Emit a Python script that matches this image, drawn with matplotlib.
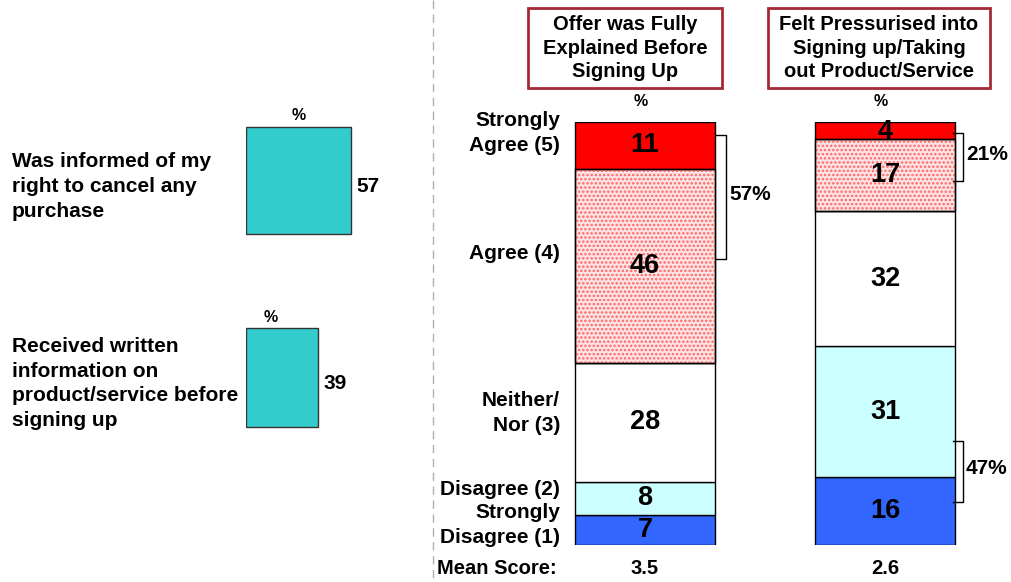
import matplotlib.pyplot as plt
import numpy as np

plt.rcParams['font.family'] = ['Liberation Sans', 'DejaVu Sans']
plt.rcParams['hatch.linewidth'] = 1.2

# left panel
left_labels = ['Was informed of my\nright to cancel any\npurchase',
               'Received written\ninformation on\nproduct/service before\nsigning up']
left_values = [57, 39]

# stacked bars
titles = ['Offer was Fully\nExplained Before\nSigning Up',
          'Felt Pressurised into\nSigning up/Taking\nout Product/Service']
scale = ['Strongly\nDisagree (1)', 'Disagree (2)', 'Neither/\nNor (3)', 'Agree (4)', 'Strongly\nAgree (5)']
offer = [7, 8, 28, 46, 11]
pressure = [16, 31, 32, 17, 4]
means = ['3.5', '2.6']

colors = ['#3366ff', '#ccffff', '#ffffff', '#fde4e4', '#ff0000']

fig = plt.figure(figsize=(10.11, 5.82), dpi=100)
bg = fig.add_axes([0, 0, 1, 1])
bg.set_xlim(0, 1011)
bg.set_ylim(582, 0)
bg.axis('off')

# dashed divider
bg.plot([433, 433], [0, 582], color='#b0b0b0', lw=1, ls=(0, (6, 4)))

# ---- left panel
axl = fig.add_axes([246 / 1011, 0, 184 / 1011, 1])
axl.set_xlim(0, 100)
axl.set_ylim(582, 0)
axl.axis('off')
ypos = [180.5, 377.5]
hts = [107, 99]
axl.barh(ypos, left_values, height=hts, color='#33cccc', edgecolor='#333333', lw=1)
for y, h, v, lab in zip(ypos, hts, left_values, left_labels):
    axl.text(v + 3, y + 6, str(v), ha='left', va='center', fontsize=15, fontweight='bold')
    axl.text(v / 2 - 6 if v < 50 else v / 2, y - h / 2 - 11, '%', ha='center', va='center',
             fontsize=11.5, fontweight='bold')
    bg.text(12, y + 6, lab, ha='left', va='center', fontsize=15, fontweight='bold',
            linespacing=1.38)

# ---- stacked bars
ax = fig.add_axes([0, 37 / 582, 1, 423 / 582])
ax.set_xlim(0, 1011)
ax.set_ylim(0, 100)
ax.axis('off')
xs = [645, 885]
w = 140
for x, vals in zip(xs, [offer, pressure]):
    bottoms = np.concatenate([[0], np.cumsum(vals)[:-1]])
    for i, (v, b) in enumerate(zip(vals, bottoms)):
        ax.bar(x, v, bottom=b, width=w, color=colors[i], edgecolor='black', lw=1, zorder=2)
        if i == 3:
            ax.bar(x, v, bottom=b, width=w, color='none', edgecolor='#ff6666', lw=0,
                   hatch='....', zorder=3)
            ax.bar(x, v, bottom=b, width=w, color='none', edgecolor='black', lw=1, zorder=4)
        ty = b + v / 2
        if v < 6:
            ty = b + v / 2 - 0.3
        ax.text(x, ty, str(v), ha='center', va='center', fontsize=19.5, fontweight='bold',
                zorder=5)

# category labels
label_y = [4.7, 13.2, 31.2, 68.8, 97.5]
for lab, ly in zip(scale, label_y):
    ax.text(560, ly, lab, ha='right', va='center', fontsize=15, fontweight='bold',
            linespacing=1.4)


def bracket(x, y0, y1, text):
    ax.plot([x, x + 10, x + 10, x], [y0, y0, y1, y1], color='black', lw=1, zorder=3)
    ax.text(x + 13, (y0 + y1) / 2 + 0.6, text, ha='left', va='center', fontsize=15,
            fontweight='bold')


bracket(716, 97, 67.5, '57%')
bracket(953, 97.4, 86, '21%')
bracket(953, 24.6, 10.2, '47%')

# titles
boxes = [(528, 194), (768, 222)]
for (bx, bw), t, x in zip(boxes, titles, xs):
    bg.add_patch(plt.Rectangle((bx, 8), bw, 80, fill=False, edgecolor='#a52a35', lw=2))
    bg.text(bx + bw / 2, 48, t, ha='center', va='center', fontsize=14.5, fontweight='bold',
            linespacing=1.3)
    bg.text(x - 4, 101, '%', ha='center', va='center', fontsize=11.5, fontweight='bold')

bg.text(437, 568, 'Mean Score:', ha='left', va='center', fontsize=14.5, fontweight='bold')
for x, m in zip(xs, means):
    bg.text(x, 568, m, ha='center', va='center', fontsize=14.5, fontweight='bold')

fig.savefig('out.png', dpi=100)
